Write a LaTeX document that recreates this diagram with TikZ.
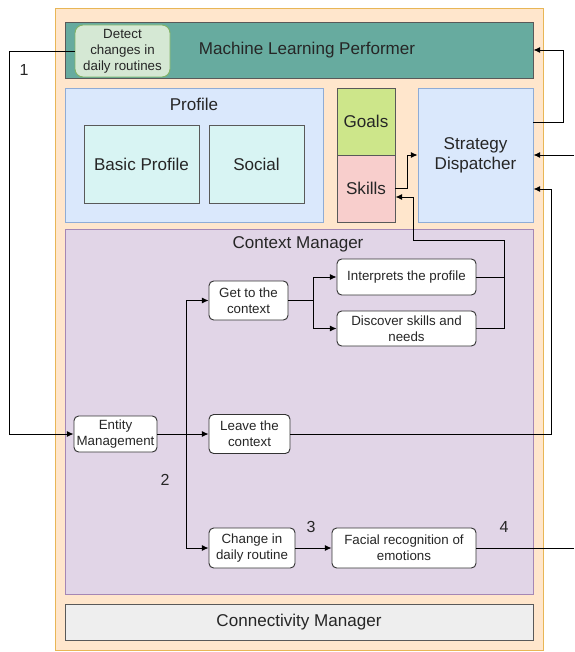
\documentclass[tikz,border=0pt]{standalone}
\usepackage{fontspec}
\setmainfont{Liberation Sans}
\usetikzlibrary{arrows.meta,calc,positioning}

\definecolor{peach}{HTML}{FFE6CC}
\definecolor{peachline}{HTML}{E8B656}
\definecolor{teal}{HTML}{67AB9F}
\definecolor{mint}{HTML}{D5E8D4}
\definecolor{mintline}{HTML}{82B366}
\definecolor{paleblue}{HTML}{DAE8FC}
\definecolor{blueline}{HTML}{8FACD6}
\definecolor{cyanish}{HTML}{D8F4F3}
\definecolor{lime}{HTML}{CDE68A}
\definecolor{rose}{HTML}{F8CECC}
\definecolor{lilac}{HTML}{E1D5E7}
\definecolor{lilacline}{HTML}{A587B5}
\definecolor{greybox}{HTML}{EEEEEE}

\begin{document}
\begin{tikzpicture}[x=0.75pt,y=-0.75pt,>={Latex[length=5pt,width=4.5pt]},line width=0.7pt]
\tikzstyle{box}=[draw=black!65,text=black!85,inner sep=0pt,align=center,font=\fontsize{12.8}{15}\selectfont]
\tikzstyle{stepbox}=[draw=black!80,fill=white,text=black!85,rounded corners=3.5pt,inner sep=0pt,align=center,font=\fontsize{10}{12}\selectfont]
\tikzstyle{num}=[text=black!85,font=\fontsize{12}{14}\selectfont]

\useasboundingbox (0,0) rectangle (574,652);

% containers
\node[box,fill=peach,draw=peachline,minimum width=366pt,minimum height=481.5pt] (panel) at (299,329) {};
\node[box,fill=teal,minimum width=351pt,minimum height=42pt] (ml) at (299,50) {\hspace*{12pt}Machine Learning Performer};
\node[stepbox,fill=mint,draw=mintline,rounded corners=6pt,minimum width=71.25pt,minimum height=39pt] (detect) at (122.5,51) {Detect\\changes in\\daily routines};

\node[box,fill=paleblue,draw=blueline,minimum width=193.5pt,minimum height=100.5pt] (profile) at (194,155) {};
\node[text=black!85,font=\fontsize{12.8}{15}\selectfont] (profiletitle) at (194,104) {Profile};
\node[box,fill=cyanish,minimum width=86.25pt,minimum height=58.5pt] (basic) at (141.5,164) {Basic Profile};
\node[box,fill=cyanish,minimum width=71.25pt,minimum height=58.5pt] (social) at (256.5,164) {Social};

\node[box,fill=lime,minimum width=43.5pt,minimum height=50.25pt] (goals) at (366,121.5) {Goals};
\node[box,fill=rose,minimum width=43.5pt,minimum height=50.25pt] (skills) at (366,188.5) {Skills};
\node[box,fill=paleblue,draw=blueline,minimum width=86.25pt,minimum height=100.5pt] (strategy) at (475.5,155) {Strategy\\Dispatcher};

\node[box,fill=lilac,draw=lilacline,minimum width=351pt,minimum height=273.75pt] (context) at (299,411.5) {};
\node[text=black!85,font=\fontsize{12.8}{15}\selectfont] (contexttitle) at (298,244) {Context Manager};
\node[box,fill=greybox,minimum width=351pt,minimum height=27pt] (connect) at (299,622) {Connectivity Manager};

% steps
\node[stepbox,minimum width=59.25pt,minimum height=29.25pt] (getctx) at (248.5,300.5) {Get to the\\context};
\node[stepbox,minimum width=104.25pt,minimum height=27pt] (interp) at (406.5,277) {Interprets the profile};
\node[stepbox,minimum width=104.25pt,minimum height=26.25pt] (discover) at (406.5,328.5) {Discover skills and\\needs};
\node[stepbox,minimum width=62.25pt,minimum height=27pt] (entity) at (115.5,434) {Entity\\Management};
\node[stepbox,minimum width=60.75pt,minimum height=29.25pt] (leave) at (249.5,434) {Leave the\\context};
\node[stepbox,minimum width=64.5pt,minimum height=30pt] (change) at (252,548) {Change in\\daily routine};
\node[stepbox,minimum width=108pt,minimum height=30pt] (facial) at (404,548) {Facial recognition of\\emotions};

% numbers
\node[num] (n1) at (24,70) {1};
\node[num] (n2) at (165,480) {2};
\node[num] (n3) at (311,527) {3};
\node[num] (n4) at (504,527) {4};

% connectors
\coordinate (split2) at (186,434);
\coordinate (split4) at (313,300.5);
\coordinate (up) at (504,240);
\coordinate (down) at (413,197);
\coordinate (fromright) at (574,155);
\coordinate (toright) at (574,548);

\draw[->] (detect.west) -- ++(-65,0) |- (entity.west);
\draw[->] (entity) -- (leave);
\draw[->] (split2) |- (getctx.west);
\draw[->] (split2) |- (change.west);
\draw (getctx.east) -- (split4);
\draw[->] (split4) |- (interp.west);
\draw[->] (split4) |- (discover.west);
\draw (interp.east) -- (interp.east -| up);
\draw[->] (discover.east) -| (up) -| (down) -- (skills.east |- down);
\draw[->] (skills.east) -- ++(12,0) |- (strategy.west);
\draw[->] ($(strategy.east)+(0,-33)$) -- ++(30,0) |- (ml.east);
\draw[->] (fromright) -- (strategy.east);
\draw[->] (leave.east) -| ($(strategy.east)+(18,34)$) -- ($(strategy.east)+(0,34)$);
\draw[->] (change) -- (facial);
\draw (facial.east) -- (toright);
\end{tikzpicture}
\end{document}
